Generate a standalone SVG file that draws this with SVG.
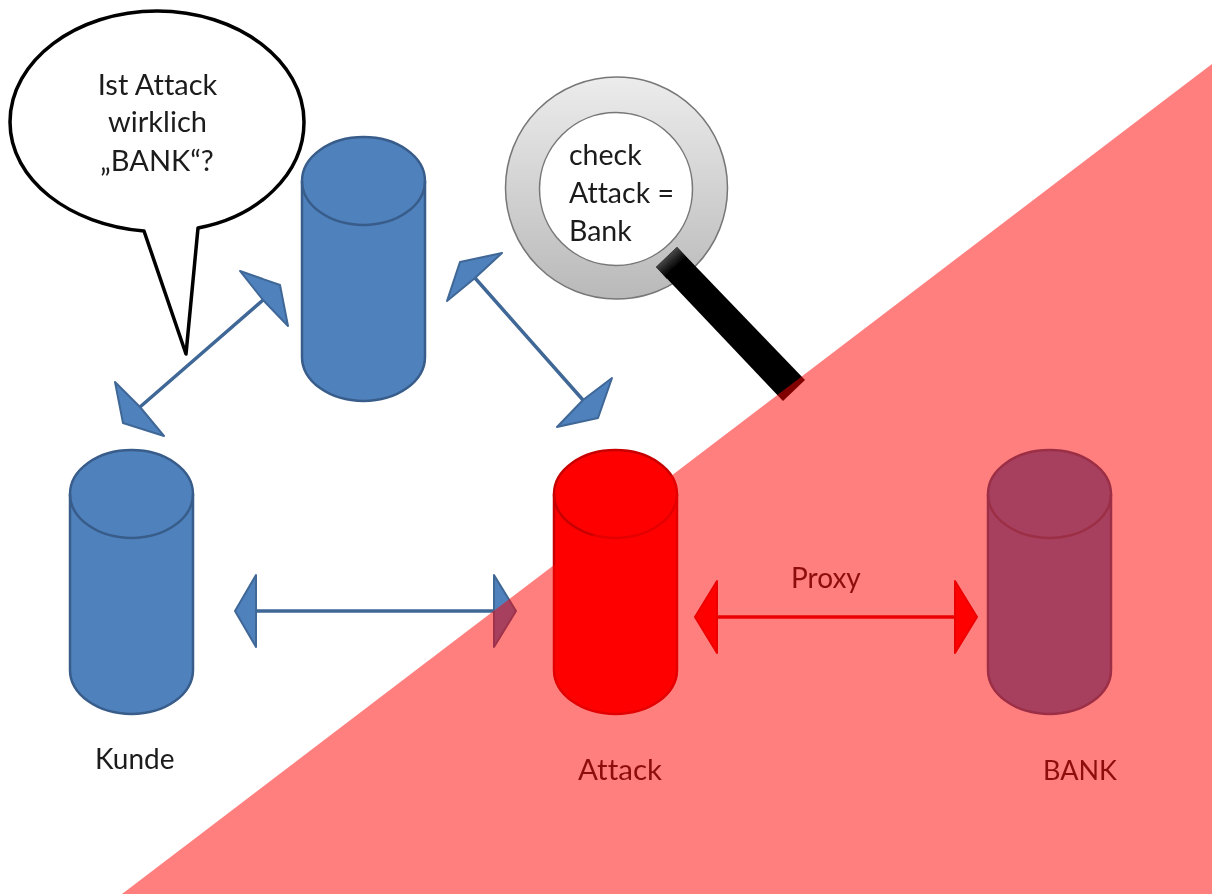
<svg xmlns="http://www.w3.org/2000/svg" width="1212" height="894" viewBox="0 0 1212 894">
<style>
text{font-family:"Lato","Open Sans","Liberation Sans",sans-serif;font-size:28.5px;fill:#1a1a1a;font-variant-ligatures:none}
.c{text-anchor:middle;font-size:29px}
.blue{fill:#4f81bd;stroke:#385d8a;stroke-width:2.5}
.red{fill:#f00;stroke:#c80000;stroke-width:2.5}
.blue text,.red text{stroke:none;fill:#1a1a1a}
.al{stroke:#3f6797;stroke-width:3.5;fill:none}
.ah{fill:#4f81bd;stroke:#3f6797;stroke-width:2;stroke-linejoin:round}
.rl{stroke:#d80000;stroke-width:3.5;fill:none}
.rh{fill:#f00;stroke:#d80000;stroke-width:2;stroke-linejoin:round}
</style>
<defs>
<filter id="soft" filterUnits="userSpaceOnUse" x="0" y="0" width="1212" height="894"><feGaussianBlur stdDeviation="0.45"/></filter>
<linearGradient id="lens" x1="0" y1="0" x2="0" y2="1"><stop offset="0" stop-color="#ececec"/><stop offset="1" stop-color="#b9b9b9"/></linearGradient>
<linearGradient id="tip" gradientUnits="userSpaceOnUse" x1="667" y1="257" x2="676" y2="267"><stop offset="0" stop-color="#444"/><stop offset="1" stop-color="#000"/></linearGradient>
<g id="cyl"><path d="M0 44A61.5 44 0 0 1 123 44V220A61.5 44 0 0 1 0 220Z"/><path fill="none" d="M0 44A61.5 44 0 0 0 123 44"/></g>
</defs>
<rect width="1212" height="894" fill="#fff"/>
<g filter="url(#soft)">
<g id="bubble"><path d="M144 231C70 225 10 180 10 122C10 61 76 11 157 11C238 11 304 61 304 122C304 174 258 217 198 228L186 354Z" fill="#fff" stroke="#000" stroke-width="3.5" stroke-linejoin="round"/>
<text class="c" x="157.500" y="95">Ist Attack</text><text class="c" x="157.500" y="132">wirklich</text><text class="c" x="157" y="171">„BANK“?</text></g>
<g id="connectors">
<path class="al" d="M140 407L263 300M475 278L583 400M256 611H494"/>
<path class="ah" d="M240 271L280 285L288 326L263 300ZM115 382L123 423L164 436L140 407ZM502 253L460 262L447 301L475 278ZM612 378L598 418L557 427L583 400ZM235 611L256 575V647ZM516 611L494 575V647Z"/>
<path class="rl" d="M717 617H955"/>
<path class="rh" d="M695 617L717 581V653ZM977 617L955 581V653Z"/>
</g>
<g id="server-top" class="blue"><use href="#cyl" x="302" y="137"/></g>
<g id="kunde" class="blue"><use href="#cyl" x="70" y="450"/><text x="95" y="769" style="font-size:28px">Kunde</text></g>
<g id="attack" class="red"><use href="#cyl" x="554" y="450"/><text x="578" y="780" style="font-size:29.5px">Attack</text></g>
<g id="bank" class="blue"><use href="#cyl" x="988" y="450"/><text x="1043" y="780" style="font-size:27px">BANK</text></g>
<g id="magnifier"><circle cx="616.5" cy="188" r="111" fill="url(#lens)" stroke="#777" stroke-width="1.5"/><circle cx="616" cy="189" r="76.500" fill="#fff" stroke="#777" stroke-width="1.5"/>
<path d="M677 247L656 267L783 401L805 380Z" fill="#000"/><path d="M677 247L656 267L667 279L688 259Z" fill="url(#tip)"/>
<text x="569" y="165">check</text><text x="569" y="203">Attack =</text><text x="569" y="241">Bank</text></g>
<text x="791" y="588" style="font-size:28px">Proxy</text>
<path id="overlay" d="M122 894L1212 64V894Z" fill="#f00" fill-opacity=".5"/>
</g>
</svg>
